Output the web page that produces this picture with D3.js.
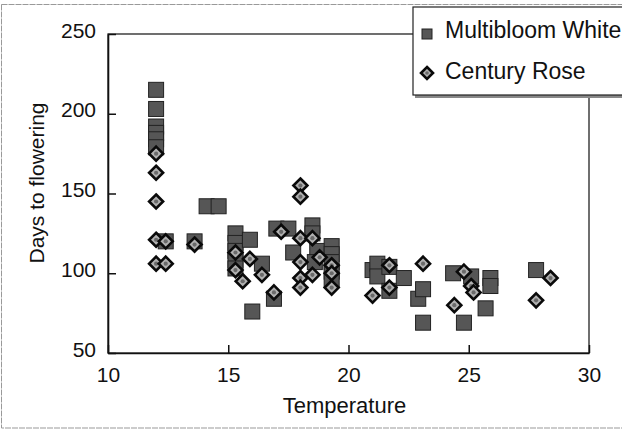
<!DOCTYPE html>
<html><head><meta charset="utf-8">
<script src="https://cdn.jsdelivr.net/npm/d3@7"></script>
<style>body{margin:0;background:#fff}svg{display:block;font-family:"Liberation Sans",Arial,sans-serif}</style>
</head><body><svg id="c" width="622" height="431"></svg>
<script>
const xTicks = [10, 15, 20, 25, 30];
const yTicks = [50, 100, 150, 200, 250];
const seriesNames = ["Multibloom White", "Century Rose"];
const whiteTemp = [12.0,12.0,12.0,12.0,12.0,12.0,12.4,13.6,14.1,14.6,15.3,15.3,15.3,15.3,15.3,15.9,16.0,16.4,16.9,17.0,17.5,17.7,18.5,18.5,18.7,18.6,19.3,19.3,19.3,19.3,19.3,21.0,21.2,21.2,21.7,21.7,22.3,22.9,23.1,23.1,24.35,25.1,25.9,25.9,25.7,24.8,27.8];
const whiteDays = [215,203,192,188,184,179,120,120,142,142,125,119,114,108,103,121,76,106,84,128,128,113,130,125,114,107,117,112,107,101,96,102,106,98,104,89,97,84,90,69,100,98,97,92,78,69,102];
const roseTemp = [12.0,12.0,12.0,12.0,12.0,12.4,12.4,13.6,15.3,15.3,15.6,15.9,16.4,16.9,17.2,18.0,18.0,18.0,18.0,18.0,18.0,18.5,18.5,18.8,19.3,19.3,19.3,21.0,21.7,21.7,23.1,24.4,24.8,25.1,25.2,27.8,28.4];
const roseDays = [175,163,145,121,106,120,106,118,113,102,95,109,99,88,126,155,148,122,107,97,91,122,99,110,105,100,91,86,105,91,106,80,101,92,88,83,97];

const svg = d3.select("#c");
const L = 108, R = 589, T = 34, B = 353;
const x = d3.scaleLinear().domain([10, 30]).range([L, R]);
const y = d3.scaleLinear().domain([50, 250]).range([B, T]);

// outer frame
svg.append("rect").attr("x",1.5).attr("y",4.5).attr("width",640).attr("height",423.5)
  .attr("fill","none").attr("stroke","#999").attr("stroke-width",1).attr("stroke-dasharray","6,1");

// plot box
svg.append("rect").attr("x",L).attr("y",T).attr("width",R-L).attr("height",B-T)
  .attr("fill","none").attr("stroke","#222").attr("stroke-width",1.3);

// axes with inward ticks
const xAxis = d3.axisBottom(x).tickValues(xTicks).tickSizeInner(-8).tickSizeOuter(0).tickPadding(14);
const gx = svg.append("g").attr("transform",`translate(0,${B})`).call(xAxis);
gx.select(".domain").attr("stroke","#111").attr("stroke-width",1.6);
gx.selectAll(".tick line").attr("stroke","#111").attr("stroke-width",1.5);
gx.selectAll("text").attr("font-size",21).attr("fill","#111").attr("font-family","Liberation Sans, Arial");

const yAxis = d3.axisLeft(y).tickValues(yTicks).tickSizeInner(-8).tickSizeOuter(0).tickPadding(12);
const gy = svg.append("g").attr("transform",`translate(${L},0)`).call(yAxis);
gy.select(".domain").attr("stroke","#111").attr("stroke-width",1.6);
gy.selectAll(".tick line").attr("stroke","#111").attr("stroke-width",1.5);
gy.selectAll("text").attr("font-size",21).attr("fill","#111").attr("dy","0.15em").attr("font-family","Liberation Sans, Arial");

// axis titles
svg.append("text").attr("x",(L+R)/2-4).attr("y",413).attr("text-anchor","middle")
  .attr("font-size",22).attr("fill","#111").text("Temperature");
svg.append("text").attr("transform","translate(44,183) rotate(-90)").attr("text-anchor","middle")
  .attr("font-size",21).attr("fill","#111").text("Days to flowering");

const white = whiteTemp.map((t,i)=>({t, d: whiteDays[i]}));
const rose = roseTemp.map((t,i)=>({t, d: roseDays[i]}));

function square(g, cx, cy, s){
  g.append("rect").attr("x",cx-s/2).attr("y",cy-s/2).attr("width",s).attr("height",s)
    .attr("fill","#565656").attr("stroke","#222").attr("stroke-width",1);
}
function diamond(g, cx, cy, r){
  g.append("path").attr("d",`M${cx},${cy-r}L${cx+r},${cy}L${cx},${cy+r}L${cx-r},${cy}Z`)
    .attr("fill","#b0b0b0").attr("stroke","#0a0a0a").attr("stroke-width",2.6);
  g.append("circle").attr("cx",cx).attr("cy",cy).attr("r",r*0.3).attr("fill","#6a6a6a");
}

const gw = svg.append("g");
white.forEach(p => square(gw, x(p.t), y(p.d), 15));
const gr = svg.append("g");
rose.forEach(p => diamond(gr, x(p.t), y(p.d), 7));

// legend
const lg = svg.append("g");
lg.append("rect").attr("x",415).attr("y",9).attr("width",230).attr("height",89).attr("fill","#888");
lg.append("rect").attr("x",413).attr("y",7).attr("width",230).attr("height",88)
  .attr("fill","#fff").attr("stroke","#222").attr("stroke-width",1.2);
square(lg, 427, 34, 10);
diamond(lg, 427, 73, 6);
lg.append("text").attr("x",445).attr("y",38).attr("font-size",23).attr("fill","#111").text(seriesNames[0]);
lg.append("text").attr("x",445).attr("y",79).attr("font-size",23).attr("fill","#111").text(seriesNames[1]);
</script></body></html>
